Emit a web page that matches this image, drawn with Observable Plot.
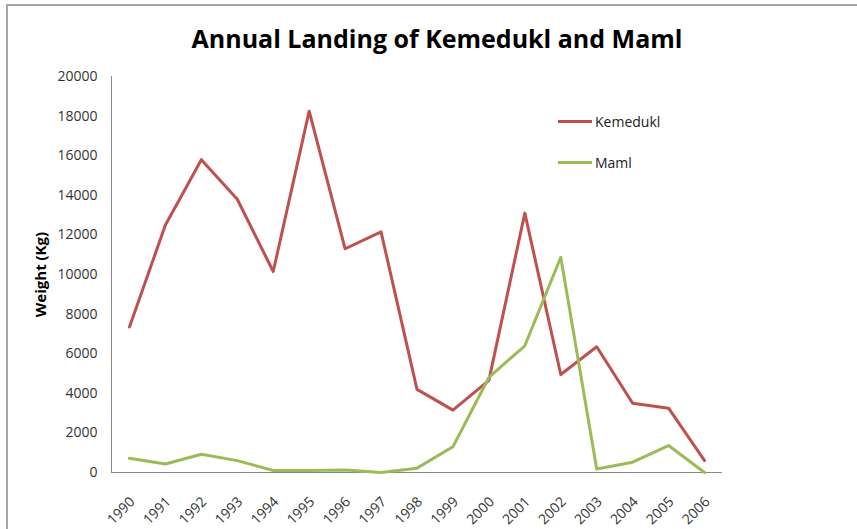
<!DOCTYPE html>
<html>
<head>
<meta charset="utf-8">
<script src="https://cdn.jsdelivr.net/npm/d3@7"></script>
<script src="https://cdn.jsdelivr.net/npm/@observablehq/plot@0.6"></script>
<style>
  html, body { margin: 0; padding: 0; background: #fff; }
  #wrap { position: relative; width: 857px; height: 529px; overflow: hidden; font-family: "Open Sans", sans-serif; }
  #border { position: absolute; left: 6px; top: 4px; width: 900px; height: 600px; border: 2px solid #a6a6a6; box-sizing: border-box; }
  #title { position: absolute; left: 0; width: 874px; top: 21px; text-align: center; font-size: 25px; font-weight: 700; color: #000; }
  #chart { position: absolute; left: 0; top: 0; }
  .leg { position: absolute; left: 558px; display: flex; align-items: center; font-size: 14px; color: #222; }
  .leg span.sw { display: inline-block; width: 34px; height: 3px; margin-right: 3px; }
</style>
</head>
<body>
<div id="wrap">
  <div id="border"></div>
  <div id="chart"></div>
  <div id="title">Annual Landing of Kemedukl and Maml</div>
  <div class="leg" style="top:112px"><span class="sw" style="background:#C0504D"></span>Kemedukl</div>
  <div class="leg" style="top:153px"><span class="sw" style="background:#9BBB59"></span>Maml</div>
</div>
<script>
const years = ["1990","1991","1992","1993","1994","1995","1996","1997","1998","1999","2000","2001","2002","2003","2004","2005","2006"];
const kemedukl = [7350, 12500, 15800, 13800, 10150, 18250, 11300, 12150, 4200, 3150, 4650, 13100, 4950, 6350, 3500, 3250, 600];
const maml = [720, 430, 920, 600, 100, 100, 130, 0, 220, 1300, 4800, 6400, 10870, 180, 520, 1360, 0];
const seriesNames = ["Kemedukl", "Maml"];
const seriesColors = ["#C0504D", "#9BBB59"];
const yTicks = [0, 2000, 4000, 6000, 8000, 10000, 12000, 14000, 16000, 18000, 20000];

const rows = [];
years.forEach((y, i) => {
  rows.push({year: y, value: kemedukl[i], series: seriesNames[0]});
  rows.push({year: y, value: maml[i], series: seriesNames[1]});
});

const chart = Plot.plot({
  width: 857,
  height: 529,
  marginLeft: 111,
  marginRight: 135,
  marginTop: 76,
  marginBottom: 57,
  style: {fontFamily: "'Open Sans', sans-serif", background: "transparent", overflow: "visible"},
  x: {type: "point", domain: years, padding: 0.5, round: false},
  y: {domain: [0, 20000]},
  color: {domain: seriesNames, range: seriesColors},
  marks: [
    Plot.frame({anchor: "left", stroke: "#888"}),
    Plot.ruleY([0], {stroke: "#888"}),
    Plot.axisY({ticks: yTicks, tickSize: 0, tickPadding: 14, tickFormat: d3.format("d"), fontSize: 14, fill: "#333", label: null}),
    Plot.axisX({tickSize: 0, tickRotate: -45, tickPadding: 17, dy: 10, dx: 3, fontSize: 14, fill: "#333", label: null}),
    Plot.text(["Weight (Kg)"], {frameAnchor: "left", textAnchor: "middle", text: d => d, rotate: -90, dx: -70, fontWeight: "bold", fontSize: 15, fill: "#000"}),
    Plot.line(rows, {x: "year", y: "value", stroke: "series", strokeWidth: 3, z: "series"})
  ]
});
document.getElementById("chart").appendChild(chart);
</script>
</body>
</html>
